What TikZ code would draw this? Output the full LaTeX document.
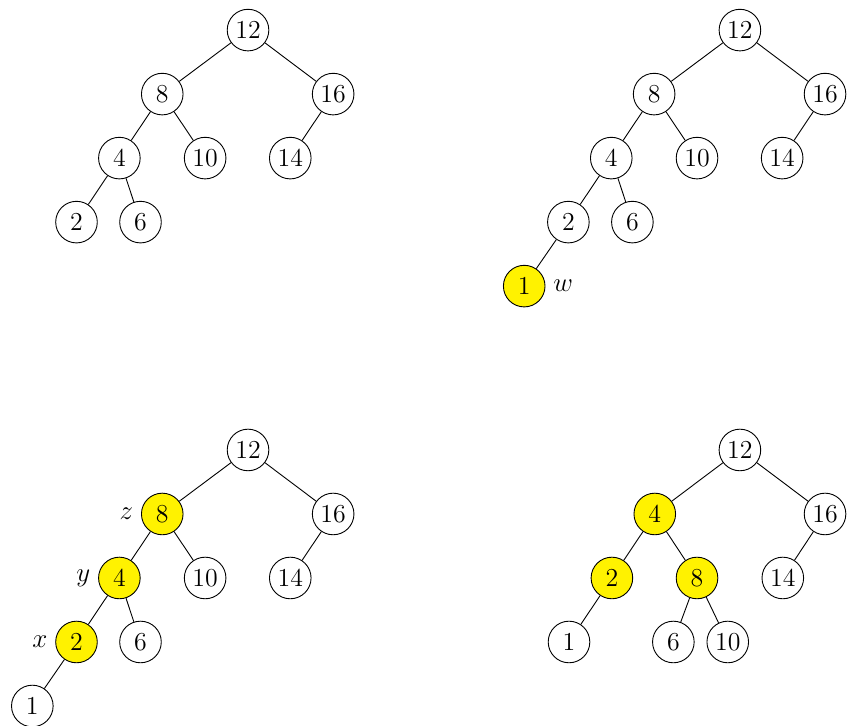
\documentclass[tikz,border=0pt]{standalone}
\usetikzlibrary{positioning}
\begin{document}
\begin{tikzpicture}[on grid,font=\fontsize{11.5}{14}\selectfont,
        main node/.style={circle,draw,minimum size=0.65cm,inner sep=1pt},
        hl node/.style={main node,fill=yellow}]
        \useasboundingbox (0,0) rectangle (13.28,-11.34);
        % tree 1
        \node[main node] (a12) at (3.875,-0.47) {12};
        \node[main node] (a8) [below left=1cm and 1.34cm of a12] {8};
        \node[main node] (a16) [below right=1cm and 1.33cm of a12] {16};
        \node[main node] (a4) [below left=1cm and 0.67cm of a8] {4};
        \node[main node] (a10) [below right=1cm and 0.67cm of a8] {10};
        \node[main node] (a14) [below left=1cm and 0.67cm of a16] {14};
        \node[main node] (a2) [below left=1cm and 0.67cm of a4] {2};
        \node[main node] (a6) [below right=1cm and 0.33cm of a4] {6};
        \path
        (a12) edge (a8)
        (a12) edge (a16)
        (a8) edge (a4)
        (a8) edge (a10)
        (a16) edge (a14)
        (a4) edge (a2)
        (a4) edge (a6)
        ;
        % tree 2
        \node[main node] (b12) at (11.56,-0.47) {12};
        \node[main node] (b8) [below left=1cm and 1.34cm of b12] {8};
        \node[main node] (b16) [below right=1cm and 1.33cm of b12] {16};
        \node[main node] (b4) [below left=1cm and 0.67cm of b8] {4};
        \node[main node] (b10) [below right=1cm and 0.67cm of b8] {10};
        \node[main node] (b14) [below left=1cm and 0.67cm of b16] {14};
        \node[main node] (b2) [below left=1cm and 0.67cm of b4] {2};
        \node[main node] (b6) [below right=1cm and 0.33cm of b4] {6};
        \node[hl node, label={right:$w$}] (b1) [below left=1cm and 0.69cm of b2] {1};
        \path
        (b12) edge (b8)
        (b12) edge (b16)
        (b8) edge (b4)
        (b8) edge (b10)
        (b16) edge (b14)
        (b4) edge (b2)
        (b4) edge (b6)
        (b2) edge (b1)
        ;
        % tree 3
        \node[main node] (c12) at (3.875,-7.03) {12};
        \node[hl node, label={left:$z$}] (c8) [below left=1cm and 1.34cm of c12] {8};
        \node[main node] (c16) [below right=1cm and 1.33cm of c12] {16};
        \node[hl node, label={left:$y$}] (c4) [below left=1cm and 0.67cm of c8] {4};
        \node[main node] (c10) [below right=1cm and 0.67cm of c8] {10};
        \node[main node] (c14) [below left=1cm and 0.67cm of c16] {14};
        \node[hl node, label={left:$x$}] (c2) [below left=1cm and 0.67cm of c4] {2};
        \node[main node] (c6) [below right=1cm and 0.33cm of c4] {6};
        \node[main node] (c1) [below left=1cm and 0.69cm of c2] {1};
        \path
        (c12) edge (c8)
        (c12) edge (c16)
        (c8) edge (c4)
        (c8) edge (c10)
        (c16) edge (c14)
        (c4) edge (c2)
        (c4) edge (c6)
        (c2) edge (c1)
        ;
        % tree 4
        \node[main node] (d12) at (11.56,-7.03) {12};
        \node[hl node] (d4) [below left=1cm and 1.33cm of d12] {4};
        \node[main node] (d16) [below right=1cm and 1.33cm of d12] {16};
        \node[hl node] (d2) [below left=1cm and 0.67cm of d4] {2};
        \node[hl node] (d8) [below right=1cm and 0.66cm of d4] {8};
        \node[main node] (d14) [below left=1cm and 0.66cm of d16] {14};
        \node[main node] (d1) [below left=1cm and 0.67cm of d2] {1};
        \node[main node] (d6) [below left=1cm and 0.37cm of d8] {6};
        \node[main node] (d10) [below right=1cm and 0.48cm of d8] {10};
        \path
        (d12) edge (d4)
        (d12) edge (d16)
        (d4) edge (d2)
        (d4) edge (d8)
        (d16) edge (d14)
        (d2) edge (d1)
        (d8) edge (d6)
        (d8) edge (d10)
        ;
\end{tikzpicture}
\end{document}
